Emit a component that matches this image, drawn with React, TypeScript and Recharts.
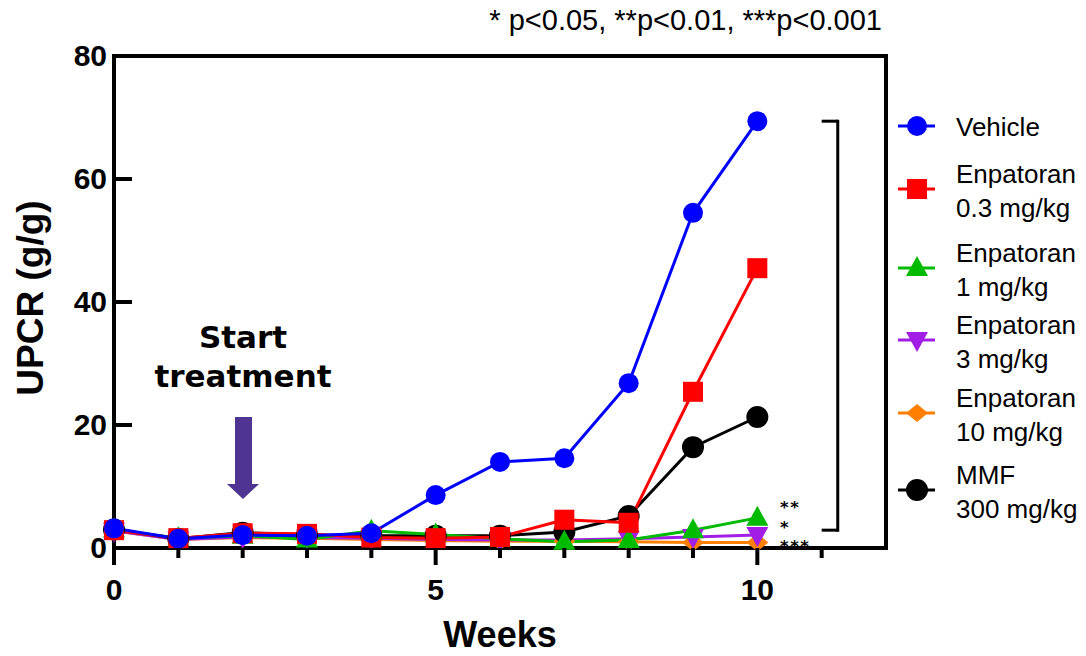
import React from "react";
import {
  Customized,
  Legend,
  Line,
  LineChart,
  ReferenceLine,
  XAxis,
  YAxis,
} from "recharts";

const weeks = [0, 1, 2, 3, 4, 5, 6, 7, 8, 9, 10];
const vehicle = [3.2, 1.5, 2.1, 2.0, 2.4, 8.6, 14.0, 14.6, 26.8, 54.5, 69.4];
const enp03 = [2.9, 1.6, 2.4, 2.3, 1.7, 1.6, 1.8, 4.6, 4.1, 25.4, 45.5];
const enp1 = [3.0, 1.6, 2.0, 1.4, 2.8, 2.2, 1.5, 1.0, 1.3, 2.9, 4.9];
const enp3 = [2.8, 1.4, 1.8, 1.7, 1.6, 1.4, 1.3, 1.3, 1.5, 1.8, 2.1];
const enp10 = [2.8, 1.4, 1.7, 1.6, 1.4, 1.2, 1.1, 1.1, 1.0, 0.9, 0.9];
const mmf = [3.0, 1.5, 2.5, 2.1, 2.0, 2.0, 2.0, 2.6, 5.2, 16.4, 21.3];

const xTicks = [0, 1, 2, 3, 4, 5, 6, 7, 8, 9, 10, 11];
const xLabels = [0, 5, 10];
const yTicks = [0, 20, 40, 60, 80];

// bracket spans from vehicle end down to the treated groups
const bracketTop = 69.4;
const bracketBottom = 2.9;
const stars = ["**", "*", "***"];

const data = weeks.map((week, i) => ({
  week,
  vehicle: vehicle[i],
  enp03: enp03[i],
  enp1: enp1[i],
  enp3: enp3[i],
  enp10: enp10[i],
  mmf: mmf[i],
}));

type Shape = "circle" | "square" | "triangle" | "triangleDown" | "diamond" | "bigCircle";

// drawn bottom to top
const series: { key: string; label: string[]; color: string; shape: Shape; legendY: number }[] = [
  { key: "enp10", label: ["Enpatoran", "10 mg/kg"], color: "#ff8000", shape: "diamond", legendY: 318 },
  { key: "enp3", label: ["Enpatoran", "3 mg/kg"], color: "#a21ee6", shape: "triangleDown", legendY: 245 },
  { key: "mmf", label: ["MMF", "300 mg/kg"], color: "#000000", shape: "bigCircle", legendY: 395 },
  { key: "enp1", label: ["Enpatoran", "1 mg/kg"], color: "#00bb00", shape: "triangle", legendY: 173 },
  { key: "enp03", label: ["Enpatoran", "0.3 mg/kg"], color: "#ff0000", shape: "square", legendY: 94 },
  { key: "vehicle", label: ["Vehicle"], color: "#0000ff", shape: "circle", legendY: 31 },
];

const FONT = "'Liberation Sans', Arial, sans-serif";

function Marker({ shape, cx, cy, color }: { shape: Shape; cx: number; cy: number; color: string }) {
  if (cx == null || cy == null) return null;
  switch (shape) {
    case "circle":
      return <circle cx={cx} cy={cy} r={10} fill={color} />;
    case "bigCircle":
      return <circle cx={cx} cy={cy} r={11} fill={color} />;
    case "square":
      return <rect x={cx - 10} y={cy - 10} width={20} height={20} fill={color} />;
    case "triangle":
      return <polygon points={`${cx},${cy - 12} ${cx + 11},${cy + 8} ${cx - 11},${cy + 8}`} fill={color} />;
    case "triangleDown":
      return <polygon points={`${cx - 11},${cy - 8} ${cx + 11},${cy - 8} ${cx},${cy + 12}`} fill={color} />;
    default:
      return <polygon points={`${cx},${cy - 9} ${cx + 11},${cy} ${cx},${cy + 9} ${cx - 11},${cy}`} fill={color} />;
  }
}

function YTick(props: any) {
  const { x, y, payload } = props;
  return (
    <g>
      <line x1={x + 7} x2={x + 25} y1={y} y2={y} stroke="#000" strokeWidth={4} />
      <text x={x} y={y + 10} textAnchor="end" fontSize={30} fontWeight="bold" fontFamily={FONT} fill="#000">
        {payload.value}
      </text>
    </g>
  );
}

function XTick(props: any) {
  const { x, y, payload } = props;
  const major = xLabels.includes(payload.value);
  return (
    <g>
      <line x1={x} x2={x} y1={y} y2={y + (major ? 17 : 10)} stroke="#000" strokeWidth={4} />
      {major && (
        <text x={x} y={y + 52} textAnchor="middle" fontSize={30} fontWeight="bold" fontFamily={FONT} fill="#000">
          {payload.value}
        </text>
      )}
    </g>
  );
}

function LegendBox() {
  return (
    <svg width={196} height={430}>
      {[...series].reverse().map((s) => (
        <g key={s.key}>
          <line x1={8} x2={45} y1={s.legendY} y2={s.legendY} stroke={s.color} strokeWidth={3} />
          <Marker shape={s.shape} cx={27} cy={s.legendY} color={s.color} />
          {s.label.length === 1 ? (
            <text x={66} y={s.legendY + 10} fontSize={26} fontFamily={FONT} fill="#000">
              {s.label[0]}
            </text>
          ) : (
            <>
              <text x={66} y={s.legendY - 6} fontSize={26} fontFamily={FONT} fill="#000">
                {s.label[0]}
              </text>
              <text x={66} y={s.legendY + 28} fontSize={26} fontFamily={FONT} fill="#000">
                {s.label[1]}
              </text>
            </>
          )}
        </g>
      ))}
    </svg>
  );
}

function Annotations() {
  return (
    <g fontFamily={FONT} fill="#000">
      <text x={882} y={30} textAnchor="end" fontSize={29}>
        * p&lt;0.05, **p&lt;0.01, ***p&lt;0.001
      </text>
      <text x={500} y={647} textAnchor="middle" fontSize={36} fontWeight="bold">
        Weeks
      </text>
      <text x={43} y={298} textAnchor="middle" fontSize={37} fontWeight="bold" transform="rotate(-90, 43, 298)">
        UPCR (g/g)
      </text>
      <g fontFamily="'DejaVu Sans', Verdana, sans-serif" fontWeight="bold" fontSize={31} textAnchor="middle">
        <text x={243} y={348}>Start</text>
        <text x={243} y={387}>treatment</text>
      </g>
      <polygon points="235,417 252,417 252,484 259,484 243,499 227,484 235,484" fill="#4f3591" />
      {stars.map((s, i) => (
        <text
          key={i}
          x={780}
          y={513 + i * 19.5}
          fontSize={16.5}
          fontWeight="bold"
          fontFamily="'DejaVu Sans', sans-serif"
          letterSpacing={1.5}
        >
          {s}
        </text>
      ))}
    </g>
  );
}

export default function App() {
  return (
    <div style={{ position: "absolute", left: 0, top: 0, background: "#fff" }}>
      <LineChart
        width={1086}
        height={656}
        data={data}
        margin={{ top: 56, right: 200, left: 54, bottom: 48 }}
      >
        <XAxis
          dataKey="week"
          type="number"
          domain={[0, 12]}
          ticks={xTicks}
          interval={0}
          height={60}
          tickSize={0}
          tickMargin={0}
          tickLine={false}
          axisLine={{ stroke: "#000", strokeWidth: 4 }}
          tick={(p: any) => <XTick {...p} />}
        />
        <YAxis
          domain={[0, 80]}
          ticks={yTicks}
          interval={0}
          width={60}
          tickSize={0}
          tickMargin={7}
          tickLine={false}
          axisLine={{ stroke: "#000", strokeWidth: 4 }}
          tick={(p: any) => <YTick {...p} />}
        />
        <ReferenceLine y={80} stroke="#000" strokeWidth={4} strokeLinecap="square" />
        <ReferenceLine x={12} stroke="#000" strokeWidth={4} strokeLinecap="square" />
        <ReferenceLine
          segment={[{ x: 11.25, y: bracketTop }, { x: 11.25, y: bracketBottom }]}
          stroke="#000"
          strokeWidth={3}
          strokeLinecap="square"
        />
        <ReferenceLine
          segment={[{ x: 11, y: bracketTop }, { x: 11.25, y: bracketTop }]}
          stroke="#000"
          strokeWidth={3}
        />
        <ReferenceLine
          segment={[{ x: 11, y: bracketBottom }, { x: 11.25, y: bracketBottom }]}
          stroke="#000"
          strokeWidth={3}
        />
        {series.map((s) => (
          <Line
            key={s.key}
            dataKey={s.key}
            name={s.label.join(" ")}
            stroke={s.color}
            strokeWidth={3}
            type="linear"
            isAnimationActive={false}
            dot={(p: any) => (
              <Marker key={`${s.key}-${p.index}`} shape={s.shape} cx={p.cx} cy={p.cy} color={s.color} />
            )}
            activeDot={false}
          />
        ))}
        <Legend
          layout="vertical"
          align="center"
          verticalAlign="middle"
          content={() => <LegendBox />}
          wrapperStyle={{ position: "absolute", left: 890, top: 95, width: 196, height: 430 }}
        />
        <Customized component={<Annotations />} />
      </LineChart>
    </div>
  );
}
